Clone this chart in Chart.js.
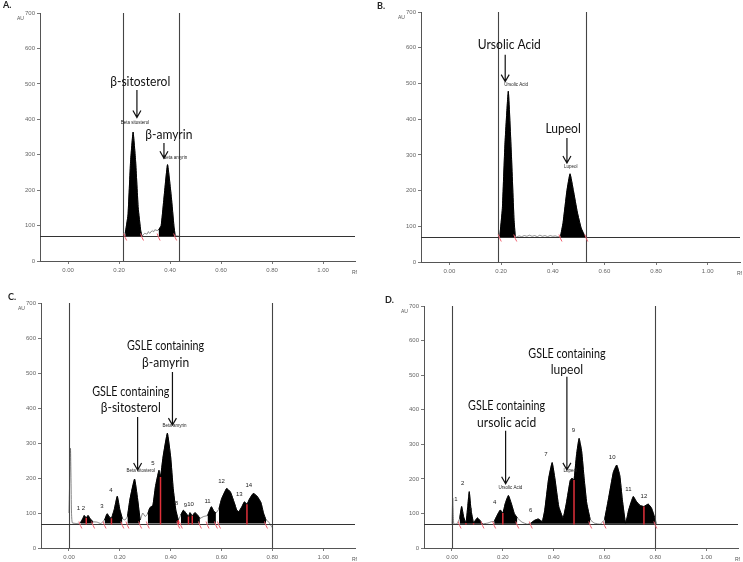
<!DOCTYPE html>
<html>
<head>
<meta charset="utf-8">
<script src="https://cdn.jsdelivr.net/npm/chart.js@4.4.1/dist/chart.umd.min.js"></script>
<style>
  body { margin: 0; background: #fff; }
  #wrap { position: relative; width: 743px; height: 562px; overflow: hidden; }
  .panel { position: absolute; }
</style>
</head>
<body>
<div id="wrap">
  <canvas class="panel" id="pA" width="371" height="280" style="left:0;top:0"></canvas>
  <canvas class="panel" id="pB" width="372" height="280" style="left:371px;top:0"></canvas>
  <canvas class="panel" id="pC" width="371" height="282" style="left:0;top:280px"></canvas>
  <canvas class="panel" id="pD" width="372" height="282" style="left:371px;top:280px"></canvas>
</div>
<script>
// ---- data (Rf vs AU) ----
const rfTicks = [0, 0.2, 0.4, 0.6, 0.8, 1.0];
const baselineAU = 70;

// A: standards beta-sitosterol / beta-amyrin
const rfA = [0.216,0.224,0.235,0.245,0.255,0.265,0.275,0.285,0.29,0.3,0.31,0.315,0.32,0.33,0.335,0.34,0.35,0.355,0.365,0.375,0.39,0.405,0.415,0.42,0.435];
const auA = [70,78,130,280,364,280,150,85,70,78,76,83,78,86,82,88,86,88,100,170,272,180,100,72,70];
const peaksA = [[0.224,0.29],[0.355,0.42]];
const vlinesA = [0.216, 0.435];

// B: standards ursolic acid / lupeol
const rfB = [0.19,0.195,0.205,0.215,0.228,0.24,0.25,0.255,0.26,0.27,0.28,0.29,0.3,0.31,0.32,0.33,0.34,0.35,0.36,0.37,0.38,0.39,0.4,0.41,0.42,0.43,0.44,0.455,0.467,0.48,0.495,0.51,0.525,0.53];
const auB = [70,72,150,330,478,300,120,72,70,73,71,74,72,75,72,74,71,75,72,74,71,74,72,73,71,72,110,200,247,200,140,95,72,70];
const peaksB = [[0.195,0.255],[0.43,0.53]];
const vlinesB = [0.19, 0.528];

// C: GSLE track (sitosterol / amyrin system)
const rfC = [0,0.006,0.01,0.013,0.03,0.045,0.055,0.06,0.068,0.075,0.085,0.095,0.11,0.125,0.14,0.15,0.16,0.167,0.178,0.19,0.2,0.21,0.22,0.23,0.24,0.258,0.27,0.28,0.29,0.3,0.31,0.318,0.33,0.34,0.354,0.36,0.37,0.387,0.4,0.41,0.42,0.43,0.44,0.45,0.46,0.47,0.476,0.485,0.495,0.505,0.515,0.53,0.545,0.56,0.57,0.578,0.59,0.6,0.62,0.635,0.65,0.66,0.668,0.68,0.69,0.7,0.71,0.725,0.74,0.755,0.765,0.775,0.785,0.8];
const auC = [100,285,100,72,70,72,85,93,86,93,82,75,74,70,80,98,88,85,110,148,110,84,80,90,140,197,140,80,100,90,98,115,122,175,222,203,260,328,260,170,110,80,95,108,100,90,101,92,101,95,85,90,93,118,105,100,112,140,170,160,130,108,104,118,132,125,140,156,148,130,100,80,75,58];
const peaksC = [[0.045,0.095],[0.14,0.21],[0.23,0.28],[0.31,0.43],[0.44,0.515],[0.545,0.578],[0.59,0.775]];
const splitsC = [0.068,0.167,0.36,0.43,0.47,0.485,0.7];
const vlinesC = [0, 0.8];
const numbersC = [['1 2',0.047,112],['3',0.13,120],['4',0.165,166],['5',0.33,242],['8',0.423,128],['9',0.458,121],['10',0.478,124],['11',0.545,134],['12',0.6,190],['13',0.67,152],['14',0.707,178]];

// D: GSLE track (ursolic acid / lupeol system)
const rfD = [0,0.003,0.007,0.02,0.03,0.038,0.046,0.055,0.062,0.068,0.075,0.085,0.092,0.1,0.11,0.12,0.14,0.155,0.166,0.178,0.19,0.2,0.21,0.222,0.235,0.245,0.257,0.275,0.296,0.31,0.325,0.339,0.355,0.365,0.38,0.394,0.405,0.42,0.437,0.45,0.465,0.472,0.48,0.49,0.5,0.51,0.52,0.53,0.544,0.56,0.583,0.6,0.615,0.635,0.648,0.66,0.67,0.683,0.695,0.713,0.725,0.74,0.755,0.772,0.785,0.8,0.805];
const auD = [70,144,70,70,85,120,90,72,120,163,110,72,80,87,80,70,72,76,77,95,110,101,130,152,125,100,87,75,69,72,80,84,77,110,200,247,200,120,87,130,195,202,197,270,317,280,200,130,82,72,69,82,140,220,240,210,140,72,110,149,135,123,120,127,115,82,70];
const peaksD = [[0.03,0.12],[0.166,0.257],[0.31,0.544],[0.6,0.8]];
const splitsD = [0.055,0.085,0.2,0.48,0.755];
const vlinesD = [0, 0.8];
const numbersD = [['1',0.016,142],['2',0.042,186],['3',0.074,108],['4',0.168,131],['6',0.31,108],['7',0.37,270],['9',0.478,339],['10',0.63,262],['11',0.694,171],['12',0.755,149]];

// ---- callouts (text block + arrow, in Rf/AU units) ----
const calloutsA = [
  { lines: ['β-sitosterol'], x: 0.283, y: 508, ax: 0.27, ay0: 483, ay1: 405 },
  { lines: ['β-amyrin'], x: 0.395, y: 356, ax: 0.376, ay0: 333, ay1: 290 }
];
const tagsA = [['Beta sitosterol',0.262,390],['Beta amyrin',0.42,291]];
const calloutsB = [
  { lines: ['Ursolic Acid'], x: 0.232, y: 608, ax: 0.216, ay0: 580, ay1: 505 },
  { lines: ['Lupeol'], x: 0.44, y: 375, ax: 0.455, ay0: 347, ay1: 277 }
];
const tagsB = [['Ursolic Acid',0.258,496],['Lupeol',0.47,266]];
const calloutsC = [
  { lines: ['GSLE containing','β-amyrin'], x: 0.38, y: 577, ax: 0.407, ay0: 503, ay1: 351 },
  { lines: ['GSLE containing','β-sitosterol'], x: 0.243, y: 446, ax: 0.27, ay0: 374, ay1: 223 }
];
const tagsC = [['Beta sitosterol',0.282,220],['Beta amyrin',0.415,348]];
const calloutsD = [
  { lines: ['GSLE containing','lupeol'], x: 0.452, y: 562, ax: 0.452, ay0: 495, ay1: 226 },
  { lines: ['GSLE containing','ursolic acid'], x: 0.215, y: 410, ax: 0.211, ay0: 339, ay1: 186 }
];
const tagsD = [['Ursolic Acid',0.23,175],['Lupeol',0.465,223]];

function aLookup(rf, au, x) {
  const i = rf.indexOf(x);
  return i >= 0 ? au[i] : baselineAU;
}

// narrow text, close to the Calibri used in the figure
function narrowText(ctx, txt, cx, cy, size) {
  ctx.save();
  ctx.translate(cx, cy);
  ctx.scale(0.86, 1);
  ctx.font = size + 'px Lato, "Open Sans", sans-serif';
  ctx.fillText(txt, 0, 0);
  ctx.restore();
}

const densitoPlugin = {
  id: 'densito',
  afterDatasetsDraw(chart) {
    const o = chart.options.plugins.densito;
    const { ctx, chartArea: ca, scales: { x, y } } = chart;
    ctx.save();
    // vertical track limits
    ctx.strokeStyle = '#444';
    ctx.lineWidth = 1.1;
    o.vlines.forEach(v => {
      const px = Math.round(x.getPixelForValue(v)) + 0.5;
      ctx.beginPath();
      ctx.moveTo(px, y.getPixelForValue(0));
      ctx.lineTo(px, y.getPixelForValue(700));
      ctx.stroke();
    });
    // baseline
    const by = Math.round(y.getPixelForValue(baselineAU)) + 0.5;
    ctx.strokeStyle = '#333';
    ctx.lineWidth = 1;
    ctx.beginPath();
    ctx.moveTo(ca.left, by);
    ctx.lineTo(ca.right, by);
    ctx.stroke();
    // red split lines
    ctx.strokeStyle = '#e0303a';
    ctx.lineWidth = 1.5;
    (o.splits || []).forEach(s => {
      const px = x.getPixelForValue(s);
      ctx.beginPath();
      ctx.moveTo(px, by);
      ctx.lineTo(px, y.getPixelForValue(aLookup(o.rf, o.au, s)));
      ctx.stroke();
    });
    // red peak limit marks
    ctx.strokeStyle = '#f06070';
    ctx.lineWidth = 1;
    o.peaks.forEach(p => p.forEach(v => {
      const px = x.getPixelForValue(v);
      ctx.beginPath();
      ctx.moveTo(px - 1.5, by - 3);
      ctx.lineTo(px, by + 1);
      ctx.lineTo(px + 1.5, by + 4);
      ctx.stroke();
    }));
    // tags from the scanner software
    ctx.fillStyle = '#222';
    ctx.font = '4.5px Arial, sans-serif';
    ctx.textAlign = 'center';
    ctx.textBaseline = 'middle';
    o.tags.forEach(t => ctx.fillText(t[0], x.getPixelForValue(t[1]), y.getPixelForValue(t[2])));
    ctx.font = '6px Arial, sans-serif';
    (o.numbers || []).forEach(t => ctx.fillText(t[0], x.getPixelForValue(t[1]), y.getPixelForValue(t[2])));
    // callouts
    ctx.fillStyle = '#111';
    ctx.strokeStyle = '#111';
    o.callouts.forEach(c => {
      const cx = x.getPixelForValue(c.x);
      const cy = y.getPixelForValue(c.y);
      c.lines.forEach((ln, i) => narrowText(ctx, ln, cx, cy + i * 16,
        c.lines.length > 1 && i === 0 ? 12.5 : 14));
      const ax = x.getPixelForValue(c.ax);
      const y0 = y.getPixelForValue(c.ay0), y1 = y.getPixelForValue(c.ay1);
      ctx.lineWidth = 1.2;
      ctx.beginPath();
      ctx.moveTo(ax, y0);
      ctx.lineTo(ax, y1);
      ctx.moveTo(ax - 4, y1 - 7);
      ctx.lineTo(ax, y1);
      ctx.lineTo(ax + 4, y1 - 7);
      ctx.stroke();
    });
    // panel letter, axis names
    ctx.fillStyle = '#222';
    ctx.textAlign = 'left';
    ctx.font = 'bold 9px Lato, Arial, sans-serif';
    ctx.fillText(o.letter, o.letterPos[0], o.letterPos[1]);
    ctx.font = '5px Arial, sans-serif';
    ctx.fillStyle = '#555';
    ctx.fillText('AU', ca.left - 23, ca.top + 6);
    ctx.fillText('Rf', ca.right - 3, ca.bottom + 12);
    ctx.restore();
  }
};

function makePanel(id, p) {
  const trace = p.rf.map((v, i) => ({ x: v, y: p.au[i] }));
  const filled = [];
  p.peaks.forEach(([a, b]) => {
    p.rf.forEach((v, i) => { if (v >= a && v <= b) filled.push({ x: v, y: p.au[i] }); });
    filled.push({ x: b + 0.0001, y: null });
  });
  const tickFont = { size: 6, family: 'Arial, sans-serif' };
  return new Chart(document.getElementById(id), {
    type: 'line',
    data: {
      datasets: [
        { data: filled, borderColor: '#000', backgroundColor: '#000', borderWidth: 1,
          fill: { value: baselineAU }, pointRadius: 0, tension: 0.12, spanGaps: false },
        { data: trace, borderColor: '#666', borderWidth: 0.8, fill: false,
          pointRadius: 0, tension: 0.12 }
      ]
    },
    options: {
      responsive: false,
      animation: false,
      layout: { padding: { left: 0, top: p.top, right: p.right, bottom: 0 } },
      plugins: {
        legend: { display: false },
        tooltip: { enabled: false },
        densito: p
      },
      scales: {
        x: {
          type: 'linear', min: -0.11, max: 1.125,
          afterBuildTicks: s => { s.ticks = rfTicks.map(v => ({ value: v })); },
          afterFit: s => { s.height = p.xh; },
          ticks: { font: tickFont, color: '#666', padding: 3, maxRotation: 0,
                   callback: v => v.toFixed(2) },
          grid: { drawOnChartArea: false, tickLength: 3, color: '#777' },
          border: { color: '#555' }
        },
        y: {
          min: 0, max: 700,
          afterFit: s => { s.width = p.yw; },
          ticks: { stepSize: 100, font: tickFont, color: '#666', padding: 2 },
          grid: { drawOnChartArea: false, tickLength: 3, color: '#777' },
          border: { color: '#555' }
        }
      }
    },
    plugins: [densitoPlugin]
  });
}

makePanel('pA', { rf: rfA, au: auA, peaks: peaksA, vlines: vlinesA, callouts: calloutsA, tags: tagsA,
  letter: 'A.', letterPos: [3, 5], top: 13, right: 16, xh: 19, yw: 40 });
makePanel('pB', { rf: rfB, au: auB, peaks: peaksB, vlines: vlinesB, callouts: calloutsB, tags: tagsB,
  letter: 'B.', letterPos: [6, 6], top: 12, right: 3, xh: 18, yw: 50 });
makePanel('pC', { rf: rfC, au: auC, peaks: peaksC, vlines: vlinesC, callouts: calloutsC, tags: tagsC,
  numbers: numbersC, splits: splitsC, letter: 'C.', letterPos: [8, 17], top: 23, right: 16, xh: 14, yw: 41 });
makePanel('pD', { rf: rfD, au: auD, peaks: peaksD, vlines: vlinesD, callouts: calloutsD, tags: tagsD,
  numbers: numbersD, splits: splitsD, letter: 'D.', letterPos: [14, 20], top: 26, right: 5, xh: 14, yw: 53 });
</script>
</body>
</html>
